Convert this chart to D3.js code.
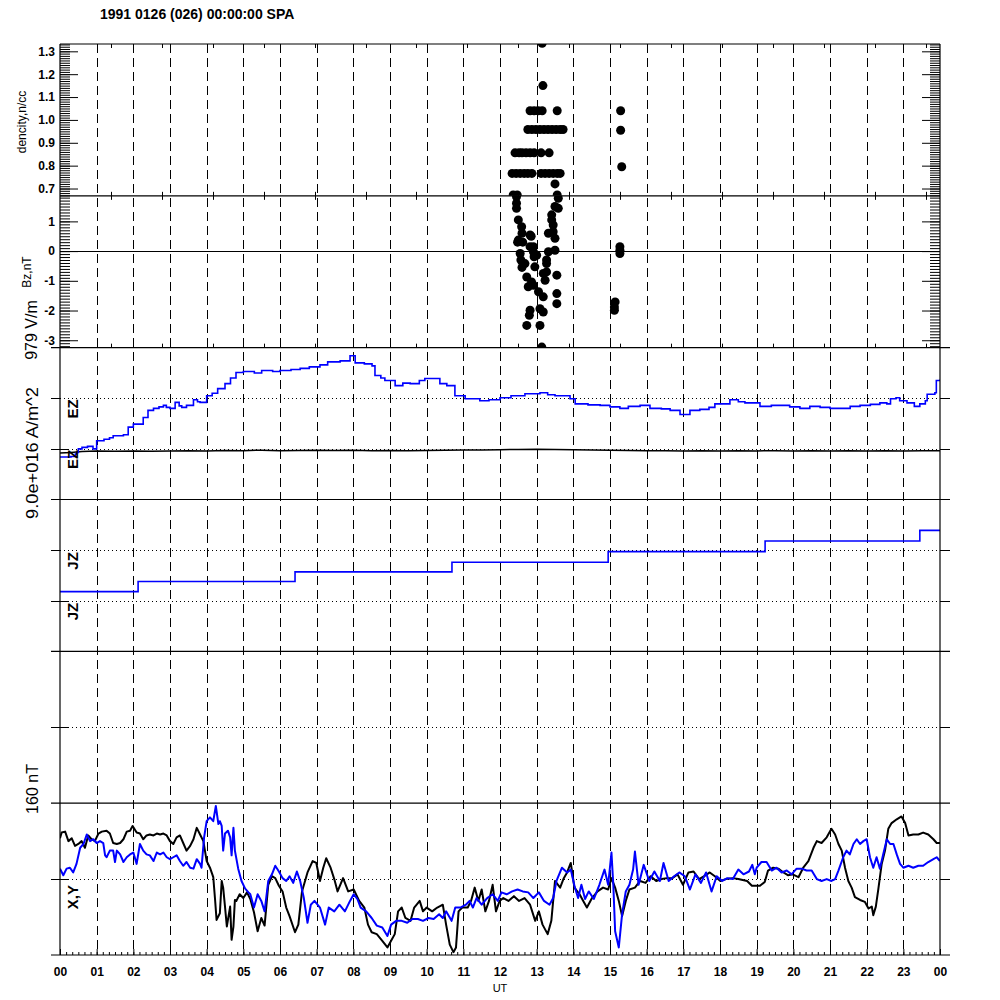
<!DOCTYPE html>
<html><head><meta charset="utf-8">
<script src="https://cdn.jsdelivr.net/npm/d3@7"></script>
<style>
body{margin:0;background:#fff}
svg{display:block}
text{font-family:"Liberation Sans",Arial,Helvetica,sans-serif}
</style>
</head><body>
<svg id="c" width="1000" height="1000"></svg>
<script>
// ---------------- DATA ----------------
const titleText = "1991 0126 (026) 00:00:00 SPA";
const hourLabels = ["00","01","02","03","04","05","06","07","08","09","10","11","12","13","14","15","16","17","18","19","20","21","22","23","00"];
const densityTicks = [0.7,0.8,0.9,1.0,1.1,1.2,1.3];
const bzTicks = [-3,-2,-1,0,1];
const panelLabels = ["dencity,n/cc","Bz,nT","979 V/m","9.0e+016 A/m^2","160 nT"];

// density (n/cc) dots: [hour, value]
const densityPoints = [
 [12.82,1.04],[12.93,1.04],[13.04,1.04],[13.15,1.04],[13.56,1.04],[15.29,1.04],
 [12.76,0.958],[12.87,0.958],[12.98,0.958],[13.09,0.958],[13.2,0.958],[13.31,0.958],[13.42,0.958],[13.53,0.958],[13.64,0.958],[13.72,0.958],[15.29,0.955],
 [12.41,0.856],[12.52,0.856],[12.6,0.856],[12.71,0.856],[12.82,0.856],[12.93,0.856],[13.12,0.856],[13.34,0.856],
 [12.33,0.766],[12.44,0.766],[12.55,0.766],[12.66,0.766],[12.76,0.766],[12.87,0.766],[13.12,0.766],[13.23,0.766],[13.34,0.766],[13.45,0.766],[13.56,0.766],[13.64,0.766],
 [13.17,1.15],[13.15,1.335],[13.5,0.72],[15.32,0.795],
 [12.36,0.672],[12.47,0.672],[13.56,0.672]
];

// Bz (nT) dots: [hour, value]
const bzPoints = [
 [12.45,1.83],[12.45,1.61],[12.45,1.44],[12.5,1.05],[12.59,0.82],[12.6,0.6],[12.5,0.37],[12.62,0.3],[12.48,0.3],
 [12.82,0.54],[12.85,0.5],[12.82,0.15],[12.91,-0.02],[12.93,-0.19],[12.55,-0.08],[12.57,-0.3],[12.6,-0.55],
 [12.68,-0.42],[12.95,-0.53],[13.27,-0.42],[13.27,-0.7],[13.27,-0.3],[13.55,-0.81],[12.73,-0.87],[12.86,-1.04],
 [12.91,-1.15],[12.77,-1.2],[13.05,-1.37],[13.18,-1.54],[13.23,-0.98],[13.55,-1.43],[13.55,-1.77],
 [12.82,-1.99],[12.8,-2.16],[13.09,-1.94],[13.18,-2.05],[12.73,-2.5],[13.09,-2.5],[13.14,-3.23],
 [13.59,1.78],[13.5,1.5],[13.59,1.44],[13.41,1.22],[13.41,1.05],[13.45,0.88],[13.32,0.6],[13.45,0.65],
 [13.5,0.43],[13.5,0.03],[13.32,-0.02],[12.91,0.15],[13.0,-0.14],[13.18,-0.75],
 [15.27,0.03],[15.27,-0.08],[15.27,0.15],[15.14,-1.71],[15.12,-1.88],[15.12,-1.99]
];

// EZ traces (panel units, reference lines at 1 and 2): [hour, value]
const ezBlue = [
 [0,0.84],[0.3,0.85],[0.42,0.9],[0.45,0.93],[0.5,1.0],[0.6,1.03],[0.75,1.05],[0.9,1.0],[1.0,1.16],[1.2,1.19],
 [1.35,1.22],[1.45,1.26],[1.73,1.28],[1.86,1.43],[2.0,1.49],[2.23,1.49],[2.27,1.62],[2.4,1.76],[2.55,1.80],
 [2.7,1.83],[2.82,1.86],[2.9,1.82],[3.0,1.80],[3.14,1.92],[3.25,1.85],[3.32,1.82],[3.45,1.86],[3.64,1.97],
 [3.75,1.93],[3.82,1.92],[4.0,2.05],[4.15,2.1],[4.3,2.19],[4.5,2.29],[4.65,2.4],[4.8,2.51],[5.0,2.53],
 [5.3,2.5],[5.5,2.55],[5.8,2.53],[6.0,2.55],[6.3,2.57],[6.55,2.59],[6.8,2.62],[7.09,2.66],[7.3,2.72],
 [7.64,2.74],[7.91,2.84],[8.05,2.70],[8.3,2.68],[8.51,2.64],[8.59,2.45],[8.75,2.4],[8.86,2.35],[9.14,2.25],
 [9.35,2.3],[9.55,2.29],[9.8,2.35],[9.95,2.39],[10.09,2.39],[10.36,2.29],[10.55,2.25],[10.77,2.05],
 [11.05,1.99],[11.45,1.95],[11.7,1.97],[12.0,2.01],[12.3,2.05],[12.68,2.09],[13.09,2.11],[13.3,2.07],
 [13.5,2.05],[13.91,1.99],[14.05,1.89],[14.4,1.87],[14.73,1.86],[15.0,1.83],[15.27,1.80],[15.5,1.84],
 [15.82,1.86],[16.09,1.80],[16.4,1.79],[16.64,1.76],[16.91,1.68],[17.18,1.76],[17.45,1.78],[17.7,1.82],
 [17.86,1.89],[18.27,1.97],[18.5,1.93],[18.68,1.91],[19.09,1.84],[19.4,1.86],[19.64,1.86],[19.9,1.83],
 [20.18,1.80],[20.45,1.84],[20.73,1.82],[21.0,1.80],[21.27,1.80],[21.55,1.84],[21.82,1.86],[22.1,1.88],
 [22.36,1.91],[22.55,1.89],[22.65,1.99],[22.8,2.01],[22.9,1.95],[23.1,1.91],[23.3,1.84],[23.45,1.89],
 [23.6,1.95],[23.65,2.08],[23.86,2.11],[23.9,2.35],[24,2.37]
];
const ezBlack = [
 [0,0.92],[0.3,0.93],[0.6,0.95],[1,0.96],[1.5,0.955],[2,0.96],[2.5,0.955],[3,0.96],[3.5,0.965],[4,0.96],
 [4.5,0.97],[5,0.965],[5.5,0.975],[6,0.965],[6.5,0.97],[7,0.975],[7.5,0.97],[8,0.975],[8.5,0.965],[9,0.97],
 [9.5,0.965],[10,0.97],[10.5,0.975],[11,0.98],[11.5,0.98],[12,0.985],[12.5,0.99],[13,0.995],[13.5,0.99],
 [14,0.985],[14.5,0.98],[15,0.975],[15.5,0.97],[16,0.965],[16.5,0.965],[17,0.96],[17.5,0.965],[18,0.96],
 [18.5,0.965],[19,0.96],[19.5,0.965],[20,0.96],[20.5,0.965],[21,0.96],[21.5,0.965],[22,0.96],[22.5,0.965],
 [23,0.96],[23.5,0.965],[24,0.965]
];

// JZ trace (panel units, reference lines at 1 and 2): [hour, value]
const jzBlue = [[0,1.18],[2.13,1.38],[6.41,1.57],[10.69,1.76],[14.95,1.97],[19.23,2.18],[23.45,2.39],[24,2.39]];

// Magnetometer X (black) and Y (blue), nT about the panel midline: [hour, value]
const magX = [
 [0,43],[0.045,49],[0.14,50],[0.23,40],[0.32,43],[0.41,35],[0.5,37],[0.59,40],[0.68,33],[0.77,46],[0.86,42],
 [0.95,40],[1.05,48],[1.14,50],[1.27,51],[1.36,48],[1.45,38],[1.55,37],[1.64,38],[1.73,42],[1.82,50],[1.91,51],
 [1.98,56],[2.09,49],[2.18,48],[2.27,42],[2.36,46],[2.45,47],[2.55,46],[2.64,48],[2.73,47],[2.82,48],[2.91,46],
 [3.0,40],[3.09,37],[3.18,44],[3.27,46],[3.36,38],[3.45,30],[3.55,35],[3.64,42],[3.73,54],[3.82,47],[3.91,40],
 [4.0,19],[4.09,12],[4.18,2],[4.23,-22],[4.27,-43],[4.36,-36],[4.41,-2],[4.45,-9],[4.5,-29],[4.55,-50],
 [4.64,-29],[4.68,-64],[4.73,-50],[4.77,-22],[4.81,-23],[4.9,-16],[5.0,-20],[5.1,-14],[5.19,-21],[5.29,-35],
 [5.39,-55],[5.49,-41],[5.58,-49],[5.68,-6],[5.78,3],[5.87,1],[5.97,-7],[6.07,-13],[6.17,-30],[6.26,-39],
 [6.41,-56],[6.5,-48],[6.6,-13],[6.75,7],[6.89,19],[6.99,17],[7.09,-2],[7.18,12],[7.26,22],[7.38,12],[7.48,0],
 [7.57,-13],[7.72,1],[7.86,-13],[8.01,-11],[8.16,-23],[8.3,-30],[8.4,-48],[8.5,-56],[8.64,-58],[8.79,-65],
 [8.93,-72],[9.03,-65],[9.13,-58],[9.22,-34],[9.32,-30],[9.42,-41],[9.56,-44],[9.66,-30],[9.81,-23],[9.9,-34],
 [10.0,-30],[10.15,-34],[10.29,-30],[10.44,-27],[10.53,-48],[10.63,-69],[10.73,-77],[10.8,-72],[10.87,-34],
 [10.97,-30],[11.12,-30],[11.21,-23],[11.31,-9],[11.41,-23],[11.5,-11],[11.6,-34],[11.7,-23],[11.8,-6],
 [11.89,-34],[11.99,-23],[12.09,-20],[12.23,-23],[12.38,-18],[12.52,-23],[12.67,-20],[12.82,-27],[12.96,-44],
 [13.06,-34],[13.16,-48],[13.3,-58],[13.4,-44],[13.5,-2],[13.64,-9],[13.74,1],[13.83,7],[13.93,17],[14.03,-9],
 [14.17,-16],[14.27,-23],[14.37,-30],[14.51,-20],[14.66,-13],[14.81,-9],[14.95,-11],[15.04,1],[15.14,-9],
 [15.24,-23],[15.33,-39],[15.43,-23],[15.53,-11],[15.68,-9],[15.82,-2],[15.97,-4],[16.11,3],[16.26,-2],
 [16.41,0],[16.55,1],[16.7,1],[16.84,5],[16.99,-6],[17.14,7],[17.28,8],[17.43,0],[17.57,3],[17.72,7],
 [17.86,3],[18.01,-2],[18.16,0],[18.35,1],[18.5,0],[18.74,-2],[18.87,-7],[18.95,-7],[19.09,-7],[19.22,-3],
 [19.31,9],[19.45,12],[19.59,11],[19.73,7],[19.86,4],[19.98,5],[20.14,2],[20.27,12],[20.41,19],[20.55,33],
 [20.64,40],[20.77,38],[20.91,44],[21.04,53],[21.14,47],[21.23,37],[21.32,30],[21.41,12],[21.5,-2],[21.59,-9],
 [21.68,-19],[21.82,-22],[21.95,-24],[22.05,-31],[22.14,-29],[22.18,-38],[22.25,-29],[22.32,-10],[22.41,16],
 [22.5,30],[22.59,53],[22.68,59],[22.82,63],[22.95,66],[23.05,59],[23.14,46],[23.27,47],[23.41,47],[23.54,49],
 [23.68,47],[23.82,42],[23.91,38],[24.0,38]
];
const magY = [
 [0,11],[0.09,4],[0.18,11],[0.27,12],[0.36,7],[0.45,16],[0.55,33],[0.64,37],[0.73,47],[0.82,40],[0.91,42],
 [1.0,38],[1.09,40],[1.18,38],[1.23,25],[1.27,23],[1.36,30],[1.45,30],[1.5,18],[1.55,30],[1.64,26],[1.73,18],
 [1.82,23],[1.91,26],[2.0,28],[2.09,16],[2.18,37],[2.27,30],[2.36,26],[2.45,25],[2.55,19],[2.64,28],[2.73,26],
 [2.82,28],[2.91,23],[3.0,21],[3.09,23],[3.18,25],[3.27,19],[3.36,14],[3.45,18],[3.55,12],[3.64,11],[3.73,21],
 [3.82,16],[3.86,12],[3.93,44],[4.0,61],[4.09,65],[4.18,61],[4.25,77],[4.32,58],[4.36,61],[4.41,56],[4.45,30],
 [4.5,48],[4.58,51],[4.64,44],[4.68,25],[4.73,54],[4.77,30],[4.86,11],[4.95,-2],[5.05,-10],[5.14,-14],
 [5.19,-16],[5.29,-30],[5.39,-16],[5.49,-23],[5.58,-34],[5.68,-2],[5.78,5],[5.87,14],[5.97,8],[6.07,1],
 [6.17,-2],[6.26,3],[6.36,-4],[6.46,8],[6.55,-2],[6.65,-20],[6.75,-46],[6.84,-27],[6.94,-23],[7.09,-30],
 [7.23,-48],[7.33,-30],[7.48,-34],[7.62,-27],[7.77,-34],[7.91,-23],[8.01,-16],[8.11,-21],[8.2,-30],[8.35,-34],
 [8.5,-41],[8.64,-49],[8.79,-51],[8.93,-60],[9.03,-48],[9.17,-44],[9.32,-44],[9.47,-46],[9.61,-42],[9.76,-42],
 [9.9,-44],[10.05,-41],[10.19,-42],[10.34,-37],[10.44,-41],[10.53,-34],[10.68,-44],[10.78,-30],[10.92,-30],
 [11.07,-27],[11.17,-23],[11.26,-30],[11.36,-20],[11.5,-27],[11.65,-20],[11.8,-16],[11.94,-23],[12.04,-14],
 [12.18,-16],[12.33,-13],[12.48,-11],[12.62,-13],[12.77,-14],[12.91,-20],[13.06,-14],[13.2,-23],[13.35,-27],
 [13.45,-20],[13.54,-2],[13.69,12],[13.83,7],[13.93,10],[14.03,-7],[14.13,-20],[14.22,-6],[14.32,-21],
 [14.42,-13],[14.56,-21],[14.71,-6],[14.85,10],[14.95,-6],[15.04,28],[15.09,-6],[15.14,-55],[15.24,-72],
 [15.33,-37],[15.43,-13],[15.53,-6],[15.63,10],[15.68,29],[15.78,-6],[15.92,15],[16.07,-2],[16.21,8],
 [16.36,-2],[16.46,17],[16.6,-2],[16.75,3],[16.89,7],[17.04,3],[17.18,-11],[17.33,5],[17.48,-4],[17.62,7],
 [17.77,-13],[17.91,3],[18.06,-2],[18.2,1],[18.35,0],[18.5,10],[18.64,5],[18.79,8],[18.88,15],[18.95,5],
 [19.0,12],[19.13,18],[19.27,18],[19.41,9],[19.54,12],[19.68,7],[19.82,9],[19.95,5],[20.09,11],[20.23,11],
 [20.36,9],[20.5,9],[20.64,0],[20.77,-2],[20.91,0],[21.04,-2],[21.14,0],[21.23,9],[21.36,23],[21.45,30],
 [21.54,26],[21.64,37],[21.73,42],[21.82,37],[21.91,40],[22.0,42],[22.09,23],[22.18,12],[22.27,23],[22.36,11],
 [22.45,26],[22.55,42],[22.64,37],[22.73,37],[22.82,26],[22.91,16],[23.0,12],[23.14,14],[23.27,12],[23.41,14],
 [23.54,14],[23.68,18],[23.82,21],[23.91,23],[24.0,19]
];

// ---------------- DRAWING ----------------
const svg = d3.select("#c");
const L = 60, R = 940, T = 44, B = 955;
const ph = (B - T) / 6;
const pTop = i => T + i * ph;
const BLUE = "#0000ff";

const x = d3.scaleLinear().domain([0, 24]).range([L, R]);
const yDen = d3.scaleLinear().domain([0.668, 1.332]).range([pTop(1), pTop(0)]);
const yBz  = d3.scaleLinear().domain([-3.25, 1.86]).range([pTop(2), pTop(1)]);
const yEz  = d3.scaleLinear().domain([0, 3]).range([pTop(3), pTop(2)]);
const yJz  = d3.scaleLinear().domain([0, 3]).range([pTop(4), pTop(3)]);
const yP5  = d3.scaleLinear().domain([-1, 1]).range([pTop(5), pTop(4)]);
const yMag = d3.scaleLinear().domain([-80, 80]).range([B, pTop(5)]);

// clip paths per panel
const defs = svg.append("defs");
for (let i = 0; i < 6; i++) {
  defs.append("clipPath").attr("id", "clip" + i)
    .append("rect").attr("x", L).attr("y", pTop(i)).attr("width", R - L).attr("height", ph);
}

// title
svg.append("text").attr("x", 100).attr("y", 19)
  .attr("font-size", 14).attr("font-weight", "bold").text(titleText);

// dashed hour lines
svg.append("g").selectAll("line").data(d3.range(1, 24)).join("line")
  .attr("x1", d => Math.round(x(d)) + 0.5).attr("x2", d => Math.round(x(d)) + 0.5)
  .attr("y1", T).attr("y2", B)
  .attr("stroke", "#000").attr("stroke-width", 1).attr("stroke-dasharray", "9,5");

// dotted reference lines
const refs = [
  {y: yEz(2), ext: 0}, {y: yEz(1), ext: 9},
  {y: yJz(2), ext: 0}, {y: yJz(1), ext: 9},
  {y: yP5(0), ext: 9}, {y: yMag(0), ext: 9}
];
const gRef = svg.append("g");
refs.forEach(r => {
  const yy = Math.round(r.y) + 0.5;
  gRef.append("line").attr("x1", L).attr("x2", R).attr("y1", yy).attr("y2", yy)
    .attr("stroke", "#000").attr("stroke-dasharray", "1,3");
  gRef.append("line").attr("x1", L - 9).attr("x2", L + r.ext).attr("y1", yy).attr("y2", yy).attr("stroke", "#000");
  gRef.append("line").attr("x1", R).attr("x2", R + 10).attr("y1", yy).attr("y2", yy).attr("stroke", "#000");
});

// Bz zero line
svg.append("line").attr("x1", L).attr("x2", R)
  .attr("y1", Math.round(yBz(0)) + 0.5).attr("y2", Math.round(yBz(0)) + 0.5)
  .attr("stroke", "#000").attr("stroke-width", 1.2);

// density dots
svg.append("g").attr("clip-path", "url(#clip0)").selectAll("circle").data(densityPoints).join("circle")
  .attr("cx", d => x(d[0])).attr("cy", d => yDen(d[1])).attr("r", 4.5).attr("fill", "#000");
// Bz dots
svg.append("g").attr("clip-path", "url(#clip1)").selectAll("circle").data(bzPoints).join("circle")
  .attr("cx", d => x(d[0])).attr("cy", d => yBz(d[1])).attr("r", 4.5).attr("fill", "#000");

// EZ
svg.append("path").datum(ezBlack).attr("clip-path", "url(#clip2)")
  .attr("d", d3.line().x(d => x(d[0])).y(d => yEz(d[1])))
  .attr("fill", "none").attr("stroke", "#000").attr("stroke-width", 1.5);
svg.append("path").datum(ezBlue).attr("clip-path", "url(#clip2)")
  .attr("d", d3.line().x(d => x(d[0])).y(d => yEz(d[1])).curve(d3.curveStepAfter))
  .attr("fill", "none").attr("stroke", BLUE).attr("stroke-width", 1.6);

// JZ
svg.append("path").datum(jzBlue).attr("clip-path", "url(#clip3)")
  .attr("d", d3.line().x(d => x(d[0])).y(d => yJz(d[1])).curve(d3.curveStepAfter))
  .attr("fill", "none").attr("stroke", BLUE).attr("stroke-width", 1.6);

// Magnetometer X, Y
const lineMag = d3.line().x(d => x(d[0])).y(d => yMag(d[1]));
svg.append("path").datum(magX).attr("clip-path", "url(#clip5)")
  .attr("d", lineMag).attr("fill", "none").attr("stroke", "#000").attr("stroke-width", 2).attr("stroke-linejoin", "round");
svg.append("path").datum(magY).attr("clip-path", "url(#clip5)")
  .attr("d", lineMag).attr("fill", "none").attr("stroke", BLUE).attr("stroke-width", 2).attr("stroke-linejoin", "round");

// panel borders
const gB = svg.append("g").attr("stroke", "#000").attr("stroke-width", 1.2);
[pTop(0), pTop(1)].forEach(yy => gB.append("line").attr("x1", L).attr("x2", R).attr("y1", yy).attr("y2", yy));
[pTop(2), pTop(3), pTop(4), pTop(5), B].forEach(yy => gB.append("line").attr("x1", L - 9).attr("x2", R + 10).attr("y1", yy).attr("y2", yy));
gB.append("line").attr("x1", L).attr("x2", L).attr("y1", T).attr("y2", B);
gB.append("line").attr("x1", R).attr("x2", R).attr("y1", T).attr("y2", B);

// 5000-second ticks on top two panels
const secTicks = d3.range(1, 18).map(k => k * 5000 / 3600);
const gS = svg.append("g").attr("stroke", "#000");
secTicks.forEach(h => {
  const xx = Math.round(x(h)) + 0.5;
  gS.append("line").attr("x1", xx).attr("x2", xx).attr("y1", pTop(0)).attr("y2", pTop(0) + 4);
  gS.append("line").attr("x1", xx).attr("x2", xx).attr("y1", pTop(1) - 4).attr("y2", pTop(1) + 4);
  gS.append("line").attr("x1", xx).attr("x2", xx).attr("y1", pTop(2) - 4).attr("y2", pTop(2));
});

// axis styling helper
function style(g, bold) {
  g.select(".domain").remove();
  g.selectAll("text").attr("font-family", "'Liberation Sans',Arial,Helvetica,sans-serif")
    .attr("font-size", 12).attr("font-weight", bold ? "bold" : "normal").attr("fill", "#000");
}

// density axes
style(svg.append("g").attr("transform", `translate(${L},0)`)
  .call(d3.axisLeft(yDen).tickValues(densityTicks).tickFormat(d3.format(".1f"))
    .tickSizeInner(-18).tickSizeOuter(0).tickPadding(5)), true);
style(svg.append("g").attr("transform", `translate(${L},0)`)
  .call(d3.axisLeft(yDen).tickValues(d3.range(67, 134).map(d => d / 100)).tickFormat("")
    .tickSizeInner(-10).tickSizeOuter(0)), true);
style(svg.append("g").attr("transform", `translate(${R},0)`)
  .call(d3.axisRight(yDen).tickValues(densityTicks).tickFormat("").tickSizeInner(-18).tickSizeOuter(0)), true);
style(svg.append("g").attr("transform", `translate(${R},0)`)
  .call(d3.axisRight(yDen).tickValues(d3.range(67, 134).map(d => d / 100)).tickFormat("")
    .tickSizeInner(-10).tickSizeOuter(0)), true);

// Bz axes
style(svg.append("g").attr("transform", `translate(${L},0)`)
  .call(d3.axisLeft(yBz).tickValues(bzTicks).tickFormat(d => String(d))
    .tickSizeInner(-18).tickSizeOuter(0).tickPadding(5)), true);
style(svg.append("g").attr("transform", `translate(${L},0)`)
  .call(d3.axisLeft(yBz).tickValues(d3.range(-32, 19).map(d => d / 10)).tickFormat("")
    .tickSizeInner(-10).tickSizeOuter(0)), true);
style(svg.append("g").attr("transform", `translate(${R},0)`)
  .call(d3.axisRight(yBz).tickValues(bzTicks).tickFormat("").tickSizeInner(-18).tickSizeOuter(0)), true);
style(svg.append("g").attr("transform", `translate(${R},0)`)
  .call(d3.axisRight(yBz).tickValues(d3.range(-32, 19).map(d => d / 10)).tickFormat("")
    .tickSizeInner(-10).tickSizeOuter(0)), true);

// bottom time axis
style(svg.append("g").attr("transform", `translate(0,${B})`)
  .call(d3.axisBottom(x).tickValues(d3.range(0, 25)).tickFormat((d, i) => hourLabels[i])
    .tickSizeInner(-6).tickSizeOuter(0).tickPadding(12)), true);
style(svg.append("g").attr("transform", `translate(0,${B})`)
  .call(d3.axisBottom(x).tickValues(d3.range(0, 145).map(d => d / 6)).tickFormat("")
    .tickSizeInner(-3).tickSizeOuter(0)), true);

svg.append("text").attr("x", 500).attr("y", 992).attr("text-anchor", "middle")
  .attr("font-size", 11).text("UT");

// left panel labels (rotated)
function vtext(txt, cx, cy, size, anchor, weight, extra) {
  const t = svg.append("text").attr("transform", `translate(${cx},${cy}) rotate(-90)`)
    .attr("text-anchor", anchor).attr("font-size", size).attr("font-weight", weight || "normal").text(txt);
  if (extra) extra(t);
  return t;
}
vtext(panelLabels[0], 26, 122, 12, "middle");
vtext(panelLabels[1], 31, 272, 12, "middle");
vtext(panelLabels[2], 37, 330, 16, "middle");
vtext(panelLabels[3], 38, 453, 16, "middle", "normal", t => t.attr("textLength", 132).attr("lengthAdjust", "spacingAndGlyphs"));
vtext(panelLabels[4], 38, 789, 16, "middle");

// inner trace labels
vtext("EZ", 78, yEz(2) + 1, 15, "end", "bold");
vtext("EZ", 78, yEz(1) + 1, 15, "end", "bold");
vtext("JZ", 78, yJz(2) + 2, 15, "end", "bold");
vtext("JZ", 78, yJz(1) + 2, 15, "end", "bold");
vtext("X,Y", 78, yMag(0) + 6, 15, "end", "bold");
</script>
</body></html>
